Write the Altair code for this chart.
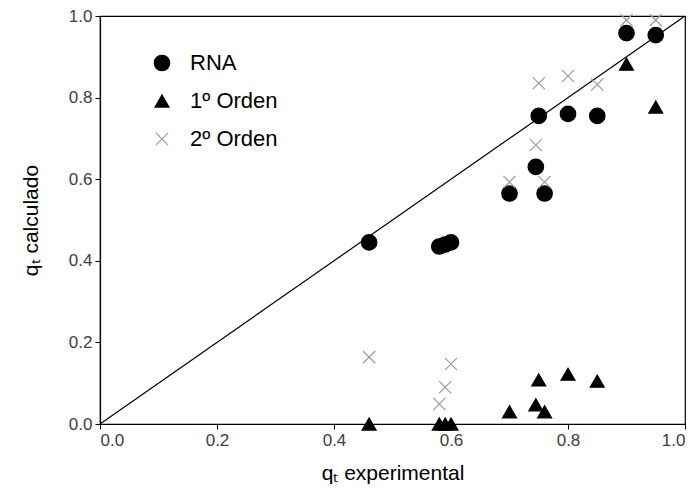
import altair as alt
import pandas as pd

x_exp = [0.46, 0.58, 0.59, 0.60, 0.70, 0.745, 0.75, 0.76, 0.80, 0.85, 0.90, 0.95]
rna = [0.445, 0.435, 0.44, 0.445, 0.565, 0.63, 0.755, 0.565, 0.76, 0.755, 0.958, 0.953]
orden1 = [0.0, 0.0, 0.0, 0.0, 0.03, 0.047, 0.108, 0.03, 0.122, 0.105, 0.882, 0.777]
orden2 = [0.164, 0.049, 0.09, 0.147, 0.593, 0.684, 0.835, 0.593, 0.853, 0.832, 0.99, 0.99]
series_names = ["RNA", "1º Orden", "2º Orden"]
diag = [0.0, 1.0]

rows = []
for name, vals in zip(series_names, [rna, orden1, orden2]):
    for xv, yv in zip(x_exp, vals):
        rows.append({"exp": xv, "calc": yv, "serie": name})
df = pd.DataFrame(rows)
df_line = pd.DataFrame({"a": diag, "b": diag})

FONT = "Liberation Sans"

xscale = alt.Scale(domain=[0, 1], nice=False)
yscale = alt.Scale(domain=[0, 1], nice=False)

line = alt.Chart(df_line).mark_line(color="black", strokeWidth=1.2, clip=True).encode(
    x=alt.X("a:Q", scale=xscale),
    y=alt.Y("b:Q", scale=yscale),
)

sdom = series_names
points = alt.Chart(df).mark_point(strokeWidth=1.2, opacity=1).encode(
    x=alt.X("exp:Q", scale=xscale, title="qₜ experimental",
            axis=alt.Axis(values=[0, 0.2, 0.4, 0.6, 0.8, 1.0], format=".1f")),
    y=alt.Y("calc:Q", scale=yscale, title="qₜ calculado",
            axis=alt.Axis(values=[0, 0.2, 0.4, 0.6, 0.8, 1.0], format=".1f")),
    shape=alt.Shape("serie:N", scale=alt.Scale(domain=sdom, range=["circle", "triangle-up", "M-1,-1L1,1M-1,1L1,-1"]),
                    legend=alt.Legend(title=None, orient="none", legendX=51, legendY=36,
                                      labelFontSize=22, labelFont=FONT, labelColor="black",
                                      rowPadding=16, labelOffset=17, symbolStrokeWidth=1.2)),
    fill=alt.Fill("serie:N", scale=alt.Scale(domain=sdom, range=["black", "black", "transparent"])),
    stroke=alt.Stroke("serie:N", scale=alt.Scale(domain=sdom, range=["black", "black", "#9a9a9a"])),
    size=alt.Size("serie:N", scale=alt.Scale(domain=sdom, range=[240, 150, 200])),
)

chart = alt.layer(line, points).properties(
    width=585, height=408,
    padding={"left": 92, "top": 8, "right": 6, "bottom": 66},
    autosize="none",
).configure_view(stroke="black", strokeWidth=1.2).configure_axis(
    grid=False,
    labelFont=FONT, labelFontSize=17, labelColor="#404040",
    titleFont=FONT, titleFontSize=21, titleFontWeight="normal", titleColor="black",
    domainColor="black", domainWidth=1.2, tickColor="black", tickSize=5, labelPadding=3,
).configure_axisX(titlePadding=14).configure_axisY(titlePadding=27)

chart.save("out.html", embed_options={"renderer": "svg", "actions": False})
